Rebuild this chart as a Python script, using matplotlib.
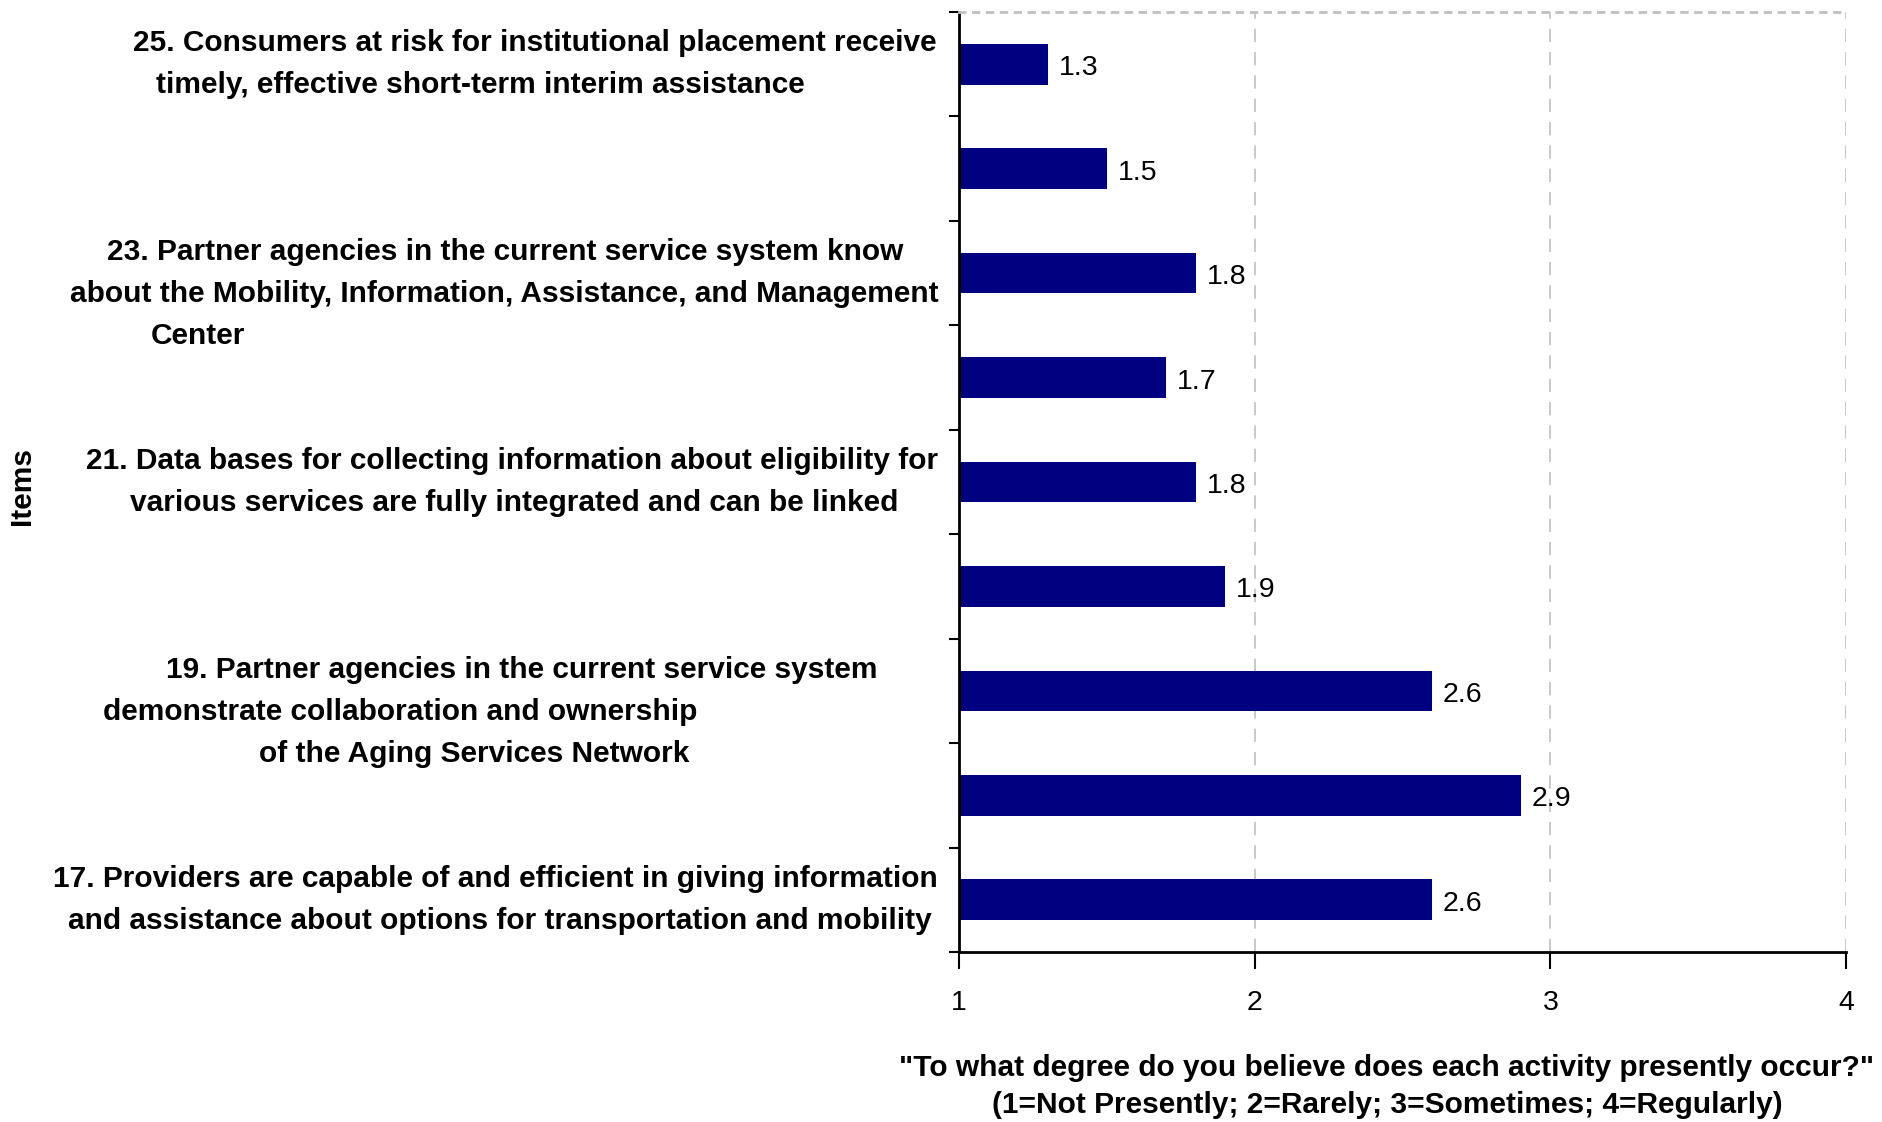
import matplotlib
matplotlib.use('Agg')
import matplotlib.pyplot as plt

plt.rcParams['font.family'] = ['Liberation Sans', 'DejaVu Sans']

# items, top to bottom
items = ['25', '24', '23', '22', '21', '20', '19', '18', '17']
scores = [1.3, 1.5, 1.8, 1.7, 1.8, 1.9, 2.6, 2.9, 2.6]

# wording shown next to the odd items only
item_text = {
    '25': ['25. Consumers at risk for institutional placement receive',
           'timely, effective short-term interim assistance'],
    '23': ['23. Partner agencies in the current service system know',
           'about the Mobility, Information, Assistance, and Management',
           'Center'],
    '21': ['21. Data bases for collecting information about eligibility for',
           'various services are fully integrated and can be linked'],
    '19': ['19. Partner agencies in the current service system',
           'demonstrate collaboration and ownership',
           'of the Aging Services Network'],
    '17': ['17. Providers are capable of and efficient in giving information',
           'and assistance about options for transportation and mobility'],
}

x_ticks = [1, 2, 3, 4]
x_title = ('"To what degree do you believe does each activity presently occur?"\n'
           '(1=Not Presently; 2=Rarely; 3=Sometimes; 4=Regularly)')

# right edge of each label line, in pixels left of the axis
line_shift = {
    '25': [-22, -154],
    '23': [-56, -20, -714],
    '21': [-21, -61],
    '19': [-82, -262, -270],
    '17': [-21, -27],
}

fig = plt.figure(figsize=(18.83, 11.22), dpi=100)
ax = fig.add_axes([0.5093, 0.1515, 0.4711, 0.8378])

pos = list(range(len(items)))
bars = ax.barh(pos, scores, height=0.39, color='#000080')

# value next to each bar, sitting a little low like the original
for p, v in zip(pos, scores):
    ax.annotate('%.1f' % v, xy=(v, p), xytext=(11, -4), textcoords='offset pixels',
                ha='left', va='center', fontsize=20.5)

ax.set_xlim(1, 4)
ax.set_ylim(len(items) - 0.5, -0.5)
ax.set_xticks(x_ticks)
ax.set_xticklabels([str(t) for t in x_ticks])
ax.tick_params(axis='x', direction='out', length=12, width=1.5, pad=15, labelsize=20.5)

# y ticks sit between the items
ax.set_yticks([])
ax.set_yticks([p - 0.5 for p in pos] + [len(items) - 0.5], minor=True)
ax.tick_params(axis='y', which='minor', direction='out', length=7, width=1.5)

ax.grid(axis='x', color='#c0c0c0', linestyle=(0, (8, 6)), linewidth=1.2)
ax.set_axisbelow(True)

for s in ['left', 'bottom']:
    ax.spines[s].set_linewidth(2)
ax.spines['top'].set_color('#c0c0c0')
ax.spines['top'].set_linestyle((0, (2, 3)))
ax.spines['top'].set_linewidth(2)
ax.spines['right'].set_visible(False)

# item wording, line by line
for p, it in zip(pos, items):
    if it not in item_text:
        continue
    for i, (line, dx) in enumerate(zip(item_text[it], line_shift[it])):
        ax.annotate(line, xy=(0, p), xycoords=('axes fraction', 'data'),
                    xytext=(dx, -(i - 0.5) * 42), textcoords='offset pixels',
                    ha='right', va='center', fontsize=21.5, fontweight='bold',
                    annotation_clip=False)

ax.set_xlabel(x_title, fontsize=21.5, fontweight='bold', linespacing=1.45)
ax.xaxis.set_label_coords(0.4825, -0.108)
ax.xaxis.label.set_va('top')

fig.text(22 / 1883, 1 - 486 / 1122, 'Items', rotation=90, ha='center', va='center',
         fontsize=21.5, fontweight='bold')

fig.savefig('out.png', dpi=100)
